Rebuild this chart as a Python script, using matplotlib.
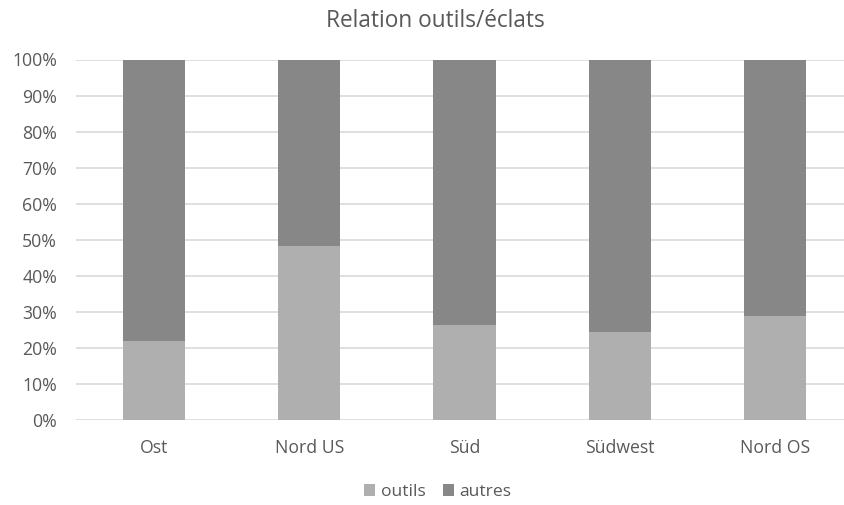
import matplotlib
matplotlib.use('Agg')
import matplotlib.pyplot as plt
import numpy as np

categories = ['Ost', 'Nord US', 'Süd', 'Südwest', 'Nord OS']
outils = [22.0, 48.4, 26.3, 24.5, 28.9]
autres = [100 - v for v in outils]
series_names = ['outils', 'autres']

plt.rcParams['font.family'] = ['Open Sans', 'DejaVu Sans']
txt = '#595959'

fig = plt.figure(figsize=(8.45, 5.05), dpi=100)
ax = fig.add_axes([76.5 / 845, (505 - 420) / 505, 776 / 845, 360.5 / 505])

x = np.arange(len(categories))
ax.bar(x, outils, width=0.4, color='#afafaf', label=series_names[0], zorder=3)
ax.bar(x, autres, width=0.4, bottom=outils, color='#878787', label=series_names[1], zorder=3)

ax.set_xlim(-0.5, len(categories) - 0.5)
ax.set_ylim(0, 100)
ax.set_yticks(np.arange(0, 101, 10))
ax.set_yticklabels([f'{v}%' for v in range(0, 101, 10)])
ax.set_xticks(x)
ax.set_xticklabels(categories)
ax.yaxis.grid(True, color='#d9d9d9', linewidth=1.2, zorder=0)
for s in ax.spines.values():
    s.set_visible(False)
ax.tick_params(axis='both', length=0, colors=txt, labelsize=12.7)
ax.tick_params(axis='y', pad=14)
ax.tick_params(axis='x', pad=14)

fig.text(0.515, 0.958, 'Relation outils/éclats', ha='center', va='center',
         fontsize=16.3, color=txt)
fig.legend(loc='center', bbox_to_anchor=(0.518, 0.026), ncol=2, frameon=False,
           fontsize=12.6, labelcolor=txt, handlelength=0.65, handleheight=0.65,
           handletextpad=0.3, columnspacing=1.0)

fig.savefig('out.png', dpi=100)
